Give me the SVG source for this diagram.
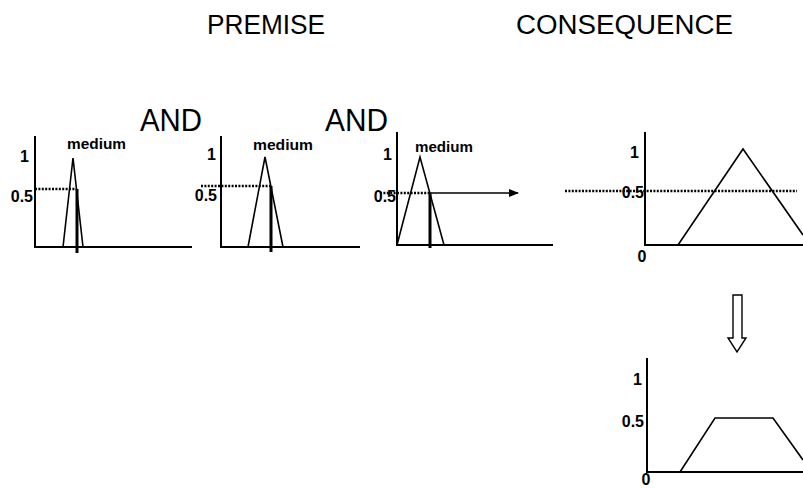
<svg xmlns="http://www.w3.org/2000/svg" width="803" height="488" viewBox="0 0 803 488">
  <style>
    .title { font-family: "Liberation Sans", Arial, sans-serif; font-size: 27px; fill: #000; }
    .and { font-family: "Liberation Sans", Arial, sans-serif; font-size: 31px; fill: #000; }
    .tick { font-family: "Liberation Sans", Arial, sans-serif; font-size: 16px; font-weight: bold; fill: #000; }
    .lbl { font-family: "Liberation Sans", Arial, sans-serif; font-size: 14px; font-weight: bold; fill: #000; }
    .axis { stroke: #000; stroke-width: 2; fill: none; }
    .mf { stroke: #000; stroke-width: 1.6; fill: none; stroke-linejoin: miter; }
    .cut { stroke: #000; stroke-width: 3; }
    .dot { stroke: #000; stroke-width: 2.6; stroke-dasharray: 2 1.4; fill: none; }
  </style>
  <defs>
    <marker id="arrowHead" markerWidth="10" markerHeight="8" refX="9" refY="4" orient="auto" markerUnits="userSpaceOnUse">
      <path d="M0,0 L10,4 L0,8 Z" fill="#000"/>
    </marker>
  </defs>

  <rect width="803" height="488" fill="#fff"/>

  <!-- headings -->
  <text class="title" x="207" y="34" textLength="118" lengthAdjust="spacingAndGlyphs">PREMISE</text>
  <text class="title" x="516" y="34" textLength="217" lengthAdjust="spacingAndGlyphs">CONSEQUENCE</text>

  <!-- premise 1 -->
  <g id="premise1">
    <polyline class="axis" points="35,136 35,247 192,247"/>
    <text class="tick" x="29" y="162" text-anchor="end">1</text>
    <text class="tick" x="33" y="202" text-anchor="end">0.5</text>
    <text class="lbl" x="67" y="149" textLength="59" lengthAdjust="spacingAndGlyphs">medium</text>
    <polyline class="mf" points="63,247 73,158 83,247"/>
    <line class="dot" x1="35" y1="189" x2="77" y2="189"/>
    <line class="cut" x1="77" y1="189" x2="77" y2="253"/>
  </g>

  <text id="and1" class="and" x="140" y="131" textLength="62" lengthAdjust="spacingAndGlyphs">AND</text>

  <!-- premise 2 -->
  <g id="premise2">
    <polyline class="axis" points="221,136 221,247 360,247"/>
    <text class="tick" x="216" y="160" text-anchor="end">1</text>
    <text class="tick" x="217" y="201" text-anchor="end">0.5</text>
    <text class="lbl" x="253" y="150" textLength="60" lengthAdjust="spacingAndGlyphs">medium</text>
    <polyline class="mf" points="248,247 265,157 283,247"/>
    <line class="dot" x1="201" y1="186" x2="271" y2="186"/>
    <line class="cut" x1="271" y1="186" x2="271" y2="252"/>
  </g>

  <text id="and2" class="and" x="325" y="131" textLength="63" lengthAdjust="spacingAndGlyphs">AND</text>

  <!-- premise 3 -->
  <g id="premise3">
    <polyline class="axis" points="397,132 397,245 553,245"/>
    <text class="tick" x="392" y="160" text-anchor="end">1</text>
    <text class="tick" x="396" y="202" text-anchor="end">0.5</text>
    <text class="lbl" x="415" y="152" textLength="58" lengthAdjust="spacingAndGlyphs">medium</text>
    <polyline class="mf" points="397,245 420,157 444,245"/>
    <line class="dot" x1="380" y1="193" x2="430" y2="193"/>
    <line class="cut" x1="430" y1="193" x2="430" y2="248"/>
  </g>

  <!-- consequence before implication -->
  <g id="consequence">
    <polyline class="axis" points="645,132 645,245 803,245"/>
    <text class="tick" x="639" y="158" text-anchor="end">1</text>
    <text class="tick" x="644" y="198" text-anchor="end">0.5</text>
    <text class="tick" x="642" y="262" text-anchor="middle">0</text>
    <polyline class="mf" points="678,245 743,149 803,235"/>
  </g>

  <!-- clipped consequence -->
  <g id="result">
    <polyline class="axis" points="647,358 647,472 803,472"/>
    <text class="tick" x="642" y="385" text-anchor="end">1</text>
    <text class="tick" x="644" y="427" text-anchor="end">0.5</text>
    <text class="tick" x="646" y="485" text-anchor="middle" font-size="14">0</text>
    <polyline class="mf" points="680,472 715,418 773,418 803,460"/>
  </g>

  <!-- connectors -->
  <g id="connectors">
    <line class="dot" x1="565" y1="191" x2="797" y2="191"/>
    <line x1="430" y1="193" x2="518" y2="193" stroke="#000" stroke-width="1.6" marker-end="url(#arrowHead)"/>
    <path d="M733,295 L742,295 L742,338 L746,338 L737,352 L728,338 L733,338 Z" fill="#fff" stroke="#000" stroke-width="1.4" stroke-linejoin="miter"/>
  </g>
</svg>
